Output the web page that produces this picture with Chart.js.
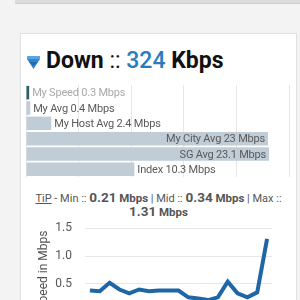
<!DOCTYPE html>
<html>
<head>
<meta charset="utf-8">
<script src="https://cdn.jsdelivr.net/npm/chart.js@4.4.1/dist/chart.umd.min.js"></script>
<style>
  html, body { margin: 0; padding: 0; width: 300px; height: 300px; overflow: hidden; background: #f3f3f3; font-family: Roboto, sans-serif; }
  .topstrip { position: absolute; left: 15px; top: 0; width: 290px; height: 3px; background: #dcdcdc; border-bottom: 1px solid #cfcfcf; }
  .card { position: absolute; left: 20px; top: 33px; width: 275px; height: 300px; background: #fff; border: 1px solid #e0e0e0; }
  .head { position: absolute; left: 6px; top: 13px; font-size: 23px; color: #111; white-space: nowrap; }
  .head svg { vertical-align: -1px; margin-right: 6px; }
  .head b { font-weight: 700; }
  .head .num { color: #2b7bbd; font-weight: 500; }
  #barWrap { position: absolute; left: 0; top: 46px; width: 275px; height: 102px; }
  .tip { position: absolute; left: 0; top: 157px; width: 275px; text-align: center; font-size: 11px; line-height: 12px; color: #555; }
  .tip span { line-height: 12px; }
  .tip u { text-decoration: underline; }
  .tip .v { font-size: 13.5px; font-weight: 700; }
  .tip .u { font-weight: 700; font-size: 11.5px; }
  #lineWrap { position: absolute; left: 0; top: 174px; width: 275px; height: 124px; }
</style>
</head>
<body>
<div class="topstrip"></div>
<div class="card">
  <div class="head">
    <svg width="13" height="13" viewBox="0 0 13 13"><polygon points="0,0 13,0 13,3 0,3" fill="#5aa6e0"/><polygon points="0,3 13,3 6.5,13" fill="#2f86cc"/><polygon points="2,6 11,6 6.5,10" fill="#1f6fb0"/></svg><b>Down</b> :: <span class="num">324</span> <b>Kbps</b>
  </div>
  <div id="barWrap"><canvas id="bars"></canvas></div>
  <div class="tip">
    <u>TiP</u> - Min :: <span class="v">0.21</span> <span class="u">Mbps</span> | Mid :: <span class="v">0.34</span> <span class="u">Mbps</span> | Max ::<br><span class="v">1.31</span> <span class="u">Mbps</span>
  </div>
  <div id="lineWrap"><canvas id="line"></canvas></div>
</div>
<script>
const barNames = ['My Speed', 'My Avg', 'My Host Avg', 'My City Avg', 'SG Avg', 'Index'];
const barValues = [0.3, 0.4, 2.4, 23, 23.1, 10.3];
const lineValues = [0.38, 0.37, 0.52, 0.40, 0.33, 0.40, 0.37, 0.38, 0.38, 0.38, 0.26, 0.24, 0.21, 0.26, 0.54, 0.33, 0.26, 0.35, 1.31];
const yTicks = [0.5, 1, 1.5];

// labels drawn next to / inside each bar
const barLabels = {
    id: 'barLabels',
    afterDatasetsDraw(chart) {
        const ctx = chart.ctx;
        const meta = chart.getDatasetMeta(0);
        ctx.save();
        ctx.font = '11px Roboto';
        ctx.letterSpacing = '-0.2px';
        ctx.textBaseline = 'middle';
        meta.data.forEach(function (bar, i) {
            let txt = barNames[i] + ' ' + barValues[i] + ' Mbps';
            ctx.fillStyle = i === 0 ? '#a9a9a9' : '#5a5a5a';
            if (barValues[i] > 15) {
                ctx.textAlign = 'right';
                ctx.fillText(txt, bar.x - 3, bar.y + 1);
            } else {
                ctx.textAlign = 'left';
                ctx.fillText(txt, bar.x + 3, bar.y + 1);
            }
        });
        ctx.restore();
    }
};

new Chart(document.getElementById('bars'), {
    type: 'bar',
    plugins: [barLabels],
    data: {
        labels: barNames,
        datasets: [{
            data: barValues,
            backgroundColor: ['#2b5e6e', '#c0ccd6', '#c0ccd6', '#c0ccd6', '#c0ccd6', '#c0ccd6'],
            borderWidth: 0,
            barPercentage: 0.88,
            categoryPercentage: 1
        }]
    },
    options: {
        indexAxis: 'y',
        responsive: true,
        maintainAspectRatio: false,
        animation: false,
        layout: { padding: { left: 5, right: 7, top: 5, bottom: 5 } },
        scales: {
            x: {
                min: 0, max: 25,
                ticks: { display: false, stepSize: 5 },
                grid: { color: '#e6e6e6', drawTicks: false },
                border: { display: false }
            },
            y: {
                display: false
            }
        },
        plugins: { legend: { display: false }, tooltip: { enabled: false } }
    }
});

new Chart(document.getElementById('line'), {
    type: 'line',
    data: {
        labels: lineValues.map(function (v, i) { return i + 1; }),
        datasets: [{
            data: lineValues,
            borderColor: '#1f67a4',
            borderWidth: 4,
            pointRadius: 0,
            tension: 0,
            fill: false
        }]
    },
    options: {
        responsive: true,
        maintainAspectRatio: false,
        animation: false,
        layout: { padding: { left: 12, right: 24, top: 0, bottom: 0 } },
        scales: {
            x: { display: false, offset: true },
            y: {
                min: 0, max: 1.5,
                afterBuildTicks: function (axis) {
                    axis.ticks = [0].concat(yTicks).map(function (v) { return { value: v }; });
                },
                afterFit: function (axis) { axis.width = 52; },
                ticks: { color: '#555', font: { family: 'Roboto', size: 12 }, padding: 13 },
                grid: { color: '#e6e6e6', drawTicks: false },
                border: { display: false },
                title: { display: true, text: 'Speed in Mbps', color: '#555', font: { family: 'Roboto', size: 12 }, padding: 4 }
            }
        },
        plugins: { legend: { display: false }, tooltip: { enabled: false } }
    }
});
</script>
</body>
</html>
